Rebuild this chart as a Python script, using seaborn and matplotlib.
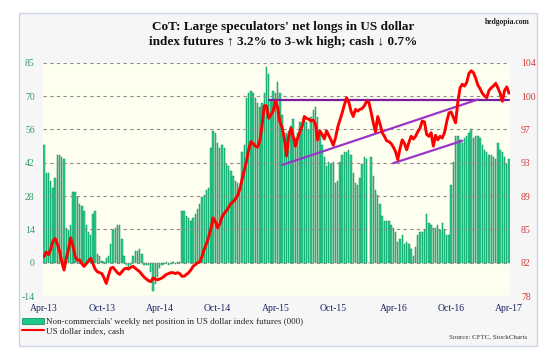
import pandas as pd
import numpy as np
import seaborn as sns
import matplotlib.pyplot as plt
from matplotlib.patches import Rectangle, Patch
from matplotlib.lines import Line2D

# weekly data, first week 2013-04-02
start = pd.Timestamp("2013-04-02")

# non-commercials' net position in US dollar index futures (000), left axis
net_long = [
    50, 38, 38, 35, 32, 36, 46, 46, 45, 44,
    15, 14, 16, 30, 30, 28, 25, 24, 22, 16,
    13, 12, 21, 22, 4, 3, 1, 0.5, 2, 3,
    8, 14, 15, 16, 16, 10, 3, -1, -2, -1,
    3, 5, 5, 6, 4, -1, -1, -1, -4, -12,
    -9, -6, -2, -1, -0.5, 0.5, -1, -0.5, 0.5, -0.5,
    0.3, 0.5, 22, 22, 20, 19, 18, 19, 21, 23,
    25, 28, 29, 31, 32, 49, 56, 55, 51, 49,
    50, 49, 42, 41, 39, 37, 35, 34, 32, 47,
    50, 70, 72, 73, 72, 70, 68, 66, 68, 72,
    83, 80, 69, 73, 72, 77, 72, 63, 55, 55,
    56, 58, 61, 53, 55, 60, 57, 61, 60, 57,
    62, 65, 66, 62, 55, 50, 45, 41, 43, 42,
    43, 34, 35, 43, 46, 47, 47, 48, 46, 38,
    34, 33, 36, 42, 45, 44, 0, 45, 37, 31,
    29, 25, 20, 18, 18, 18, 16, 15, 13, 9,
    10, 12, 8, 9, 8, 6, 3, 7, 12, 13,
    13, 14, 21, 17, 16, 15, 15, 16, 14, 17,
    14, 12, 12, 33, 43, 54, 54, 52, 51, 53,
    54, 55, 57, 53, 54, 54, 53, 50, 48, 47,
    46, 46, 45, 44, 51, 48, 47, 45, 42, 44,
]

# US dollar index, cash (right axis)
usd_index = [
    82.4, 82.9, 82.6, 83.2, 84.1, 84.4, 83.8, 83.0, 81.8, 80.9,
    82.2, 83.2, 84.5, 83.6, 82.4, 82.0, 82.0, 81.6, 81.3, 81.6,
    81.9, 82.2, 81.6, 81.0, 80.7, 80.6, 80.5, 80.0, 79.4, 80.3,
    81.1, 81.2, 80.9, 80.6, 80.4, 80.7, 81.0, 81.1, 81.0, 81.2,
    81.3, 81.1, 80.9, 80.7, 80.4, 80.1, 79.9, 79.7, 79.6, 80.0,
    79.9, 79.8, 79.9, 80.0, 80.2, 80.4, 80.5, 80.6, 80.6, 80.5,
    80.6, 80.5, 80.2, 80.2, 80.4, 80.6, 80.9, 81.3, 81.5, 81.7,
    81.8, 82.4, 83.2, 83.8, 84.6, 85.5, 86.7, 86.3, 85.6, 86.0,
    86.8, 87.2, 87.5, 87.9, 88.3, 88.5, 88.8, 89.2, 89.9, 91.0,
    92.0, 93.0, 94.3, 95.2, 95.0, 94.7, 94.6, 95.3, 97.0, 99.2,
    99.2, 97.8, 98.2, 98.6, 99.7, 99.0, 97.4, 96.8, 95.6, 93.6,
    95.8, 96.7, 95.8, 94.7, 95.6, 96.3, 96.9, 98.0, 97.8, 97.7,
    97.5, 97.6, 97.2, 95.4, 96.4, 96.0, 95.5, 96.4, 95.9, 95.4,
    94.8, 95.6, 96.8, 97.6, 98.4, 99.3, 100.1, 99.6, 98.6, 98.0,
    98.8, 98.6, 98.8, 98.9, 99.2, 99.7, 99.6, 98.5, 97.3, 96.3,
    98.0, 97.2, 96.2, 95.8, 95.3, 95.2, 95.0, 94.6, 94.1, 93.2,
    94.4, 95.4, 95.0, 94.3, 95.1, 95.8, 95.5, 95.8, 96.3, 96.7,
    97.5, 97.4, 96.0, 95.8, 96.2, 94.7, 95.9, 95.4, 95.8, 95.6,
    96.2, 97.4, 98.4, 98.5, 97.9, 97.3, 99.6, 101.2, 101.6, 101.4,
    101.8, 102.8, 103.1, 102.9, 102.3, 101.5, 101.1, 100.6, 100.3, 100.1,
    100.9, 101.2, 101.4, 101.7, 101.2, 100.6, 99.7, 100.9, 101.3, 100.6,
]

# trend lines drawn on the dollar index: (week, level) end points
resistance_weeks = [101, 209]
resistance_levels = [99.8, 99.8]
support_weeks = [107, 195]
support_levels = [92.6, 99.9]
channel_weeks = [157, 188]
channel_levels = [92.8, 95.3]

left_ticks = np.linspace(-14, 85, 8)
left_labels = ["-14", "0", "14", "28", "42", "56", "70", "85"]
right_ticks = np.linspace(78, 104, 8)
right_labels = ["78", "82", "85", "89", "93", "97", "100", "104"]
month_labels = ["Apr-13", "Oct-13", "Apr-14", "Oct-14", "Apr-15",
                "Oct-15", "Apr-16", "Oct-16", "Apr-17"]
month_dates = ["2013-04-02", "2013-10-01", "2014-04-01", "2014-09-30", "2015-03-31",
               "2015-09-29", "2016-04-05", "2016-10-04", "2017-04-04"]

df = pd.DataFrame({"week": np.arange(len(net_long)), "net": net_long, "usd": usd_index})
month_pos = [(pd.Timestamp(d) - start).days / 7 for d in month_dates]

sns.set_theme(style="white")
plt.rcParams["font.family"] = ["Liberation Serif", "DejaVu Serif"]

W, H = 560, 353
fig = plt.figure(figsize=(W / 100, H / 100), dpi=100)
fig.patch.set_facecolor("white")
frame = Rectangle((19 / W, 1 - 346 / H), 518 / W, 333 / H, transform=fig.transFigure,
                  facecolor="#f6f6f6", edgecolor="#c9d4e4", lw=1, zorder=-5)
fig.patches.append(frame)

ax = fig.add_axes([43 / W, 1 - 296 / H, 467 / W, 233.3 / H])
ax.set_facecolor("#fffff0")
sns.barplot(data=df, x="week", y="net", native_scale=True, color="#2ccf94", saturation=1,
            edgecolor="#0b9157", linewidth=0.35, width=0.62, ax=ax, zorder=2)
for v in left_ticks:
    ax.axhline(v, color="#8c8c8c", ls=(0, (3, 3)), lw=0.8, zorder=3)
ax.set_ylim(-14, 85)
ax.set_xlim(-0.45, 209.45)
ax.set_yticks(left_ticks, left_labels)
ax.set_xticks(month_pos, month_labels)
ax.tick_params(axis="y", length=0, pad=6, labelsize=7, labelcolor="#2f9c6e")
ax.tick_params(axis="x", length=0, pad=6, labelsize=7, labelcolor="#1c2566")
ax.set_xlabel("")
ax.set_ylabel("")

ax2 = ax.twinx()
sns.lineplot(data=df, x="week", y="usd", color="#ff0000", lw=2.1, ax=ax2, zorder=4)
ax2.plot(resistance_weeks, resistance_levels, color="#7a1c9e", lw=1.6, zorder=3)
ax2.plot(support_weeks, support_levels, color="#9a35c8", lw=1.6, zorder=3)
ax2.plot(channel_weeks, channel_levels, color="#9a35c8", lw=1.6, zorder=3)
ax2.set_ylim(78, 104)
ax2.set_yticks(right_ticks, right_labels)
ax2.tick_params(axis="y", length=0, pad=8, labelsize=7, labelcolor="#d23a3a")
ax2.set_ylabel("")
ax2.set_xlim(-0.45, 209.45)

for a in (ax, ax2):
    for s in a.spines.values():
        s.set_visible(False)

fig.text(283 / W, 1 - 27 / H, "CoT: Large speculators' net longs in US dollar",
         ha="center", va="center", fontsize=9.5, fontweight="bold", color="#111111")
fig.text(283 / W, 1 - 42 / H, "index futures \u2191 3.2% to 3-wk high; cash \u2193 0.7%",
         ha="center", va="center", fontsize=9.5, fontweight="bold", color="#111111")
fig.text(530 / W, 1 - 22 / H, "hedgopia.com", ha="right", va="center",
         fontsize=5.5, fontweight="bold", color="#222222")

handles = [Patch(facecolor="#1ec98c", edgecolor="#08854a", lw=0.5),
           Line2D([], [], color="#ff0000", lw=1.5)]
labels = ["Non-commercials' weekly net position in US dollar index futures (000)",
          "US dollar index, cash"]
fig.legend(handles, labels, loc="upper left", bbox_to_anchor=(22 / W, 1 - 318 / H),
           frameon=False, fontsize=6.5, handlelength=2.4, handleheight=0.6,
           handletextpad=0.3, labelspacing=0.15, borderpad=0, borderaxespad=0)
fig.text(527 / W, 1 - 337 / H, "Source: CFTC, StockCharts", ha="right", va="center",
         fontsize=5, color="#333333")

fig.savefig("out.png", dpi=100)
